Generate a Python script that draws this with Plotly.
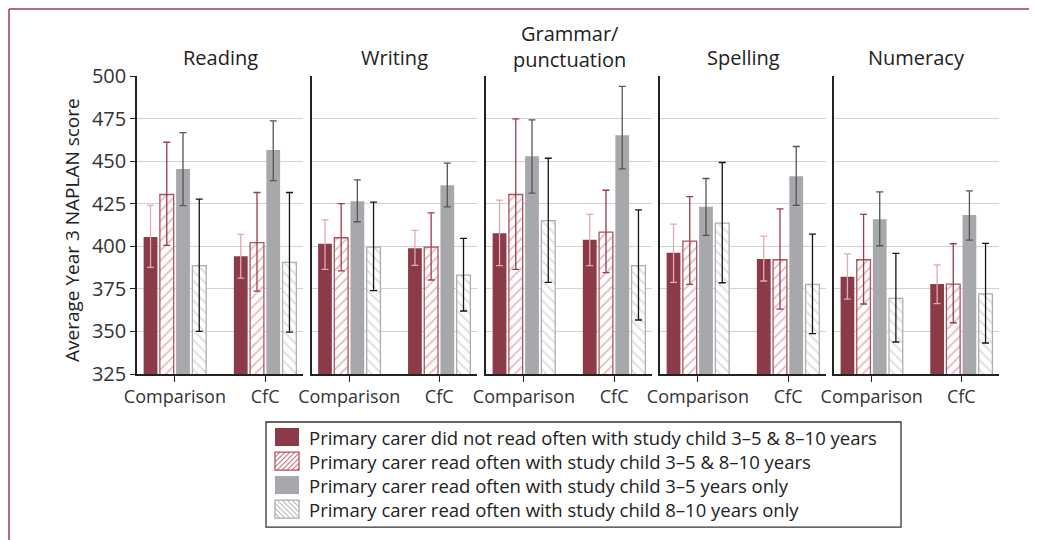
import plotly.graph_objects as go

W, H = 1037, 540
OFF = 8  # page body margin: screen pixel = figure pixel + 8

subjects = ["Reading", "Writing", "Grammar/<br>punctuation", "Spelling", "Numeracy"]
categories = ["Comparison", "CfC"]
groups = [
    "Primary carer did not read often with study child 3–5 & 8–10 years",
    "Primary carer read often with study child 3–5 & 8–10 years",
    "Primary carer read often with study child 3–5 years only",
    "Primary carer read often with study child 8–10 years only",
]

# means, per subject: [Comparison, CfC]
not_read = [[405.5, 394.2], [401.5, 398.9], [407.7, 403.8], [396.2, 392.5], [382.1, 377.8]]
not_read_hi = [[424.0, 407.0], [415.5, 409.3], [427.1, 418.7], [413.0, 406.0], [395.6, 389.1]]
not_read_lo = [[387.6, 381.3], [386.4, 388.8], [388.6, 388.6], [378.8, 379.6], [369.0, 366.3]]

read_both = [[430.4, 402.2], [405.0, 399.5], [430.4, 408.3], [403.0, 392.1], [392.1, 377.8]]
read_both_hi = [[461.1, 431.6], [425.1, 419.6], [474.8, 432.9], [429.2, 422.0], [418.7, 401.5]]
read_both_lo = [[400.5, 373.7], [385.6, 380.2], [386.4, 384.5], [377.6, 363.1], [366.1, 355.1]]

read_3to5 = [[445.4, 456.6], [426.5, 435.9], [452.9, 465.2], [423.2, 441.1], [415.9, 418.3]]
read_3to5_hi = [[466.8, 473.6], [439.0, 448.8], [474.2, 493.9], [439.8, 458.6], [432.0, 432.5]]
read_3to5_lo = [[423.9, 438.6], [414.4, 423.2], [431.2, 445.5], [406.4, 424.0], [400.3, 403.6]]

read_8to10 = [[388.6, 390.5], [399.5, 383.1], [415.1, 388.6], [413.6, 377.6], [369.4, 372.1]]
read_8to10_hi = [[427.7, 431.6], [425.9, 404.6], [451.7, 421.4], [449.2, 407.1], [395.8, 401.7]]
read_8to10_lo = [[350.0, 349.6], [374.0, 362.0], [378.8, 356.7], [378.6, 348.7], [343.8, 343.2]]

series = [
    (not_read, not_read_hi, not_read_lo),
    (read_both, read_both_hi, read_both_lo),
    (read_3to5, read_3to5_hi, read_3to5_lo),
    (read_8to10, read_8to10_hi, read_8to10_lo),
]

RED = "#8b3a48"
GREY = "#a7a8ac"
RED_LINE, RED_HATCH = "#b0505e", "#c87480"
GREY_LINE, GREY_HATCH = "#adadad", "#bababa"
styles = [
    dict(marker=dict(color=RED, line=dict(width=0)), err="#e2aab1"),
    dict(marker=dict(color="white", line=dict(color=RED_LINE, width=1.3),
                     pattern=dict(shape="/", fgcolor=RED_HATCH, bgcolor="white", size=7, solidity=0.25)),
         err="#9a3c4b"),
    dict(marker=dict(color=GREY, line=dict(width=0)), err="#555555"),
    dict(marker=dict(color="white", line=dict(color=GREY_LINE, width=1.3),
                     pattern=dict(shape="\\", fgcolor=GREY_HATCH, bgcolor="white", size=7, solidity=0.25)),
         err="#151515"),
]

FONT = "Open Sans"


def px(x, y):
    # screen pixel of the reference -> paper fraction
    return (x - OFF) / W, 1 - (y - OFF) / H


panel_px = [(137, 303), (311.5, 477), (486, 652), (660, 826), (834, 999)]
y_dom = [px(0, 374)[1], px(0, 76)[1]]

fig = go.Figure()
for i, subj in enumerate(subjects):
    ax = "" if i == 0 else str(i + 1)
    for g, (vals, hi, lo) in enumerate(series):
        v = vals[i]
        st = styles[g]
        fig.add_trace(go.Bar(
            x=categories, y=v, name=groups[g],
            marker=st["marker"],
            error_y=dict(type="data", symmetric=False,
                         array=[hi[i][k] - v[k] for k in range(2)],
                         arrayminus=[v[k] - lo[i][k] for k in range(2)],
                         color=st["err"], thickness=1.3, width=3.5),
            xaxis="x" + ax, yaxis="y" + ax, showlegend=False,
        ))
    x0, x1 = panel_px[i]
    fig.layout["xaxis" + ax] = dict(
        domain=[px(x0, 0)[0], px(x1, 0)[0]], anchor="y" + ax, range=[-0.42, 1.42],
        showline=True, linecolor="#222", linewidth=1.5, automargin=False,
        ticks="outside", ticklen=6, tickcolor="#222",
        tickfont=dict(size=18, color="#333", family=FONT),
    )
    fig.layout["yaxis" + ax] = dict(
        domain=y_dom, anchor="x" + ax, range=[325, 500], automargin=False,
        tickvals=[325, 350, 375, 400, 425, 450, 475, 500],
        showline=True, linecolor="#222", linewidth=1.5,
        showgrid=True, gridcolor="#d2d2d2", gridwidth=1.3,
        zeroline=False,
        showticklabels=(i == 0),
        ticks="outside" if i == 0 else "", ticklen=5, tickcolor="#222",
        tickfont=dict(size=20, color="#333", family=FONT),
    )
    n_lines = subj.count("<br>") + 1
    tx, ty = px((x0 + x1) / 2, 57 - 11 * (n_lines - 1))
    fig.add_annotation(
        x=tx, y=ty, xref="paper", yref="paper",
        text=subj, showarrow=False, xanchor="center", yanchor="middle",
        font=dict(size=20, color="#222", family=FONT),
    )

# y axis title
tx, ty = px(72, 230)
fig.add_annotation(x=tx, y=ty, xref="paper", yref="paper",
                   text="Average Year 3 NAPLAN score", textangle=-90, showarrow=False,
                   xanchor="center", yanchor="middle",
                   font=dict(size=19, color="#222", family=FONT))

# frame lines top and left
fx, fy = px(9, 9)
fig.add_shape(type="line", xref="paper", yref="paper", x0=fx, x1=1, y0=fy, y1=fy,
              line=dict(color="#9b3d4b", width=1.5))
fig.add_shape(type="line", xref="paper", yref="paper", x0=fx, x1=fx, y0=-0.05, y1=fy,
              line=dict(color="#9b3d4b", width=1.5))


# legend (drawn by hand so the swatches and row spacing match)
def hatch_path(left, top, w, h, step, rising):
    segs = []
    c = -h
    while c < w:
        u0, u1 = max(c, 0), min(c + h, w)
        if u1 > u0:
            v0, v1 = u0 - c, u1 - c
            if not rising:
                v0, v1 = h - v0, h - v1
            a = px(left + u0, top + h - v0)
            b = px(left + u1, top + h - v1)
            segs.append(f"M{a[0]:.5f},{a[1]:.5f}L{b[0]:.5f},{b[1]:.5f}")
        c += step
    return "".join(segs)


LEG_FONT = 18.5
row_gap = LEG_FONT * 1.3
row_y = [437 + k * row_gap for k in range(4)]

lx0, ly0 = px(266, 422)
lx1, ly1 = px(901, row_y[-1] + 18)
fig.add_shape(type="rect", xref="paper", yref="paper", x0=lx0, y0=ly0, x1=lx1, y1=ly1,
              line=dict(color="#333", width=1.3), fillcolor="white")
sw_w, sw_h = 24, 18
for g in range(4):
    top = row_y[g] - sw_h / 2
    a = px(275, top)
    b = px(275 + sw_w, top + sw_h)
    if g in (0, 2):
        fig.add_shape(type="rect", xref="paper", yref="paper", x0=a[0], y0=a[1], x1=b[0], y1=b[1],
                      line=dict(width=0), fillcolor=RED if g == 0 else GREY)
    else:
        line_c, hatch_c = (RED_LINE, RED_HATCH) if g == 1 else (GREY_LINE, GREY_HATCH)
        fig.add_shape(type="path", xref="paper", yref="paper",
                      path=hatch_path(275, top, sw_w, sw_h, 5, g == 1),
                      line=dict(color=hatch_c, width=1.1))
        fig.add_shape(type="rect", xref="paper", yref="paper", x0=a[0], y0=a[1], x1=b[0], y1=b[1],
                      line=dict(color=line_c, width=1.3))

tx, ty = px(307, (row_y[0] + row_y[-1]) / 2)
fig.add_annotation(x=tx, y=ty, xref="paper", yref="paper", text="<br>".join(groups),
                   showarrow=False, xanchor="left", yanchor="middle", align="left",
                   font=dict(size=LEG_FONT, color="#222", family=FONT))

fig.update_layout(
    width=W, height=H, margin=dict(l=0, r=0, t=0, b=0, autoexpand=False),
    paper_bgcolor="white", plot_bgcolor="white",
    barmode="group", bargap=0.28, bargroupgap=0.15,
    font=dict(family=FONT, color="#222"),
    showlegend=False,
)

fig.write_html("out.html")
